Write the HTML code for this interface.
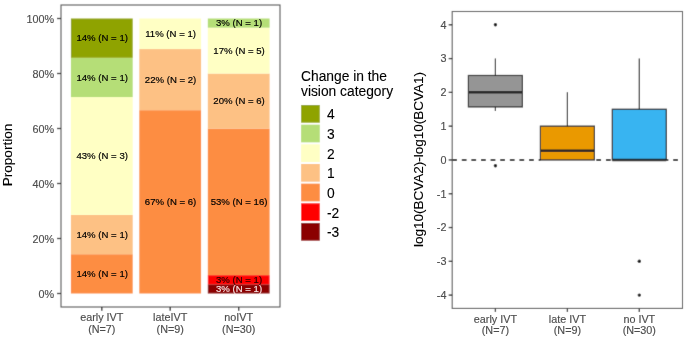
<!DOCTYPE html>
<html><head><meta charset="utf-8"><style>html,body{margin:0;padding:0;background:#fff;width:685px;height:339px;overflow:hidden}svg{display:block;will-change:transform}</style></head><body>
<svg width="685" height="339" viewBox="0 0 685 339" font-family='"Liberation Sans", sans-serif'>
<defs><filter id="bl" x="0" y="0" width="685" height="339" filterUnits="userSpaceOnUse"><feConvolveMatrix order="3" kernelMatrix="0.0100 0.0800 0.0100 0.0800 0.6400 0.0800 0.0100 0.0800 0.0100" edgeMode="duplicate"/></filter></defs>
<g filter="url(#bl)">
<rect x="0" y="0" width="685" height="339" fill="#ffffff"/>
<rect x="70.90" y="254.21" width="61.80" height="39.29" fill="#fd8d42"/>
<rect x="70.90" y="214.93" width="61.80" height="39.29" fill="#fdc184"/>
<rect x="70.90" y="97.07" width="61.80" height="117.86" fill="#ffffc4"/>
<rect x="70.90" y="57.79" width="61.80" height="39.29" fill="#b5de77"/>
<rect x="70.90" y="18.50" width="61.80" height="39.29" fill="#8fa300"/>
<rect x="139.30" y="110.17" width="61.80" height="183.33" fill="#fd8d42"/>
<rect x="139.30" y="49.06" width="61.80" height="61.11" fill="#fdc184"/>
<rect x="139.30" y="18.50" width="61.80" height="30.56" fill="#ffffc4"/>
<rect x="207.80" y="284.33" width="61.80" height="9.17" fill="#8b0000"/>
<rect x="207.80" y="275.17" width="61.80" height="9.17" fill="#ff0000"/>
<rect x="207.80" y="128.50" width="61.80" height="146.67" fill="#fd8d42"/>
<rect x="207.80" y="73.50" width="61.80" height="55.00" fill="#fdc184"/>
<rect x="207.80" y="27.67" width="61.80" height="45.83" fill="#ffffc4"/>
<rect x="207.80" y="18.50" width="61.80" height="9.17" fill="#b5de77"/>
<rect x="61.0" y="5.0" width="219.0" height="302.0" fill="none" stroke="#555555" stroke-width="1.1"/>
<line x1="57.0" y1="293.50" x2="61.0" y2="293.50" stroke="#222222" stroke-width="1.3"/>
<line x1="57.0" y1="238.50" x2="61.0" y2="238.50" stroke="#222222" stroke-width="1.3"/>
<line x1="57.0" y1="183.50" x2="61.0" y2="183.50" stroke="#222222" stroke-width="1.3"/>
<line x1="57.0" y1="128.50" x2="61.0" y2="128.50" stroke="#222222" stroke-width="1.3"/>
<line x1="57.0" y1="73.50" x2="61.0" y2="73.50" stroke="#222222" stroke-width="1.3"/>
<line x1="57.0" y1="18.50" x2="61.0" y2="18.50" stroke="#222222" stroke-width="1.3"/>
<line x1="101.8" y1="307.0" x2="101.8" y2="310.7" stroke="#222222" stroke-width="1.3"/>
<line x1="170.2" y1="307.0" x2="170.2" y2="310.7" stroke="#222222" stroke-width="1.3"/>
<line x1="238.7" y1="307.0" x2="238.7" y2="310.7" stroke="#222222" stroke-width="1.3"/>
<rect x="301.1" y="105.00" width="18.7" height="17.7" fill="#8fa300"/>
<rect x="301.1" y="124.66" width="18.7" height="17.7" fill="#b5de77"/>
<rect x="301.1" y="144.32" width="18.7" height="17.7" fill="#ffffc4"/>
<rect x="301.1" y="163.98" width="18.7" height="17.7" fill="#fdc184"/>
<rect x="301.1" y="183.64" width="18.7" height="17.7" fill="#fd8d42"/>
<rect x="301.1" y="203.30" width="18.7" height="17.7" fill="#ff0000"/>
<rect x="301.1" y="222.96" width="18.7" height="17.7" fill="#8b0000"/>
<line x1="452.20" y1="159.95" x2="540.40" y2="159.95" stroke="#333" stroke-width="2" stroke-dasharray="4.7 4.91" stroke-dashoffset="0.00"/>
<line x1="594.40" y1="159.95" x2="612.30" y2="159.95" stroke="#333" stroke-width="2" stroke-dasharray="4.7 4.91" stroke-dashoffset="7.66"/>
<line x1="666.30" y1="159.95" x2="682.50" y2="159.95" stroke="#333" stroke-width="2" stroke-dasharray="4.7 4.91" stroke-dashoffset="2.68"/>
<line x1="495.4" y1="58.58" x2="495.4" y2="75.47" stroke="#262626" stroke-width="1.2"/>
<line x1="495.4" y1="106.90" x2="495.4" y2="110.95" stroke="#262626" stroke-width="1.2"/>
<rect x="468.40" y="75.47" width="54.00" height="31.42" fill="#959595" stroke="#262626" stroke-width="1.2"/>
<line x1="468.40" y1="92.37" x2="522.40" y2="92.37" stroke="#262626" stroke-width="2.5"/>
<circle cx="495.4" cy="24.79" r="1.7" fill="#111"/>
<circle cx="495.4" cy="165.80" r="1.7" fill="#111"/>
<line x1="567.4" y1="92.37" x2="567.4" y2="126.16" stroke="#262626" stroke-width="1.2"/>
<line x1="567.4" y1="159.95" x2="567.4" y2="159.95" stroke="#262626" stroke-width="1.2"/>
<rect x="540.40" y="126.16" width="54.00" height="33.79" fill="#ea9900" stroke="#262626" stroke-width="1.2"/>
<line x1="540.40" y1="150.83" x2="594.40" y2="150.83" stroke="#262626" stroke-width="2.5"/>
<line x1="639.3" y1="58.58" x2="639.3" y2="109.26" stroke="#262626" stroke-width="1.2"/>
<line x1="639.3" y1="159.95" x2="639.3" y2="159.95" stroke="#262626" stroke-width="1.2"/>
<rect x="612.30" y="109.26" width="54.00" height="50.69" fill="#38b4f1" stroke="#262626" stroke-width="1.2"/>
<line x1="612.30" y1="159.95" x2="666.30" y2="159.95" stroke="#262626" stroke-width="2.5"/>
<circle cx="639.3" cy="261.32" r="1.7" fill="#111"/>
<circle cx="639.3" cy="295.11" r="1.7" fill="#111"/>
<rect x="452.2" y="11.5" width="230.30" height="296.90" fill="none" stroke="#555555" stroke-width="1.1"/>
<line x1="448.7" y1="295.11" x2="452.2" y2="295.11" stroke="#222222" stroke-width="1.3"/>
<line x1="448.7" y1="261.32" x2="452.2" y2="261.32" stroke="#222222" stroke-width="1.3"/>
<line x1="448.7" y1="227.53" x2="452.2" y2="227.53" stroke="#222222" stroke-width="1.3"/>
<line x1="448.7" y1="193.74" x2="452.2" y2="193.74" stroke="#222222" stroke-width="1.3"/>
<line x1="448.7" y1="159.95" x2="452.2" y2="159.95" stroke="#222222" stroke-width="1.3"/>
<line x1="448.7" y1="126.16" x2="452.2" y2="126.16" stroke="#222222" stroke-width="1.3"/>
<line x1="448.7" y1="92.37" x2="452.2" y2="92.37" stroke="#222222" stroke-width="1.3"/>
<line x1="448.7" y1="58.58" x2="452.2" y2="58.58" stroke="#222222" stroke-width="1.3"/>
<line x1="448.7" y1="24.79" x2="452.2" y2="24.79" stroke="#222222" stroke-width="1.3"/>
<line x1="495.4" y1="308.4" x2="495.4" y2="311.9" stroke="#222222" stroke-width="1.3"/>
<line x1="567.4" y1="308.4" x2="567.4" y2="311.9" stroke="#222222" stroke-width="1.3"/>
<line x1="639.3" y1="308.4" x2="639.3" y2="311.9" stroke="#222222" stroke-width="1.3"/>
</g>
<g>
<text x="102.20" y="277.19" font-size="9.6" fill="#000000" stroke="#000000" stroke-width="0.18" text-anchor="middle">14% (N = 1)</text>
<text x="102.20" y="237.91" font-size="9.6" fill="#000000" stroke="#000000" stroke-width="0.18" text-anchor="middle">14% (N = 1)</text>
<text x="102.20" y="159.34" font-size="9.6" fill="#000000" stroke="#000000" stroke-width="0.18" text-anchor="middle">43% (N = 3)</text>
<text x="102.20" y="80.77" font-size="9.6" fill="#000000" stroke="#000000" stroke-width="0.18" text-anchor="middle">14% (N = 1)</text>
<text x="102.20" y="41.48" font-size="9.6" fill="#000000" stroke="#000000" stroke-width="0.18" text-anchor="middle">14% (N = 1)</text>
<text x="170.60" y="205.17" font-size="9.6" fill="#000000" stroke="#000000" stroke-width="0.18" text-anchor="middle">67% (N = 6)</text>
<text x="170.60" y="82.95" font-size="9.6" fill="#000000" stroke="#000000" stroke-width="0.18" text-anchor="middle">22% (N = 2)</text>
<text x="170.60" y="37.11" font-size="9.6" fill="#000000" stroke="#000000" stroke-width="0.18" text-anchor="middle">11% (N = 1)</text>
<text x="239.10" y="292.25" font-size="9.6" fill="#f6e2e2" stroke="#f6e2e2" stroke-width="0.18" text-anchor="middle">3% (N = 1)</text>
<text x="239.10" y="283.09" font-size="9.6" fill="#2a0000" stroke="#2a0000" stroke-width="0.18" text-anchor="middle">3% (N = 1)</text>
<text x="239.10" y="205.17" font-size="9.6" fill="#000000" stroke="#000000" stroke-width="0.18" text-anchor="middle">53% (N = 16)</text>
<text x="239.10" y="104.34" font-size="9.6" fill="#000000" stroke="#000000" stroke-width="0.18" text-anchor="middle">20% (N = 6)</text>
<text x="239.10" y="53.92" font-size="9.6" fill="#000000" stroke="#000000" stroke-width="0.18" text-anchor="middle">17% (N = 5)</text>
<text x="239.10" y="26.42" font-size="9.6" fill="#000000" stroke="#000000" stroke-width="0.18" text-anchor="middle">3% (N = 1)</text>
<text x="54.20" y="297.77" font-size="10.8" fill="#4d4d4d" stroke="#4d4d4d" stroke-width="0.15" text-anchor="end">0%</text>
<text x="54.20" y="242.77" font-size="10.8" fill="#4d4d4d" stroke="#4d4d4d" stroke-width="0.15" text-anchor="end">20%</text>
<text x="54.20" y="187.77" font-size="10.8" fill="#4d4d4d" stroke="#4d4d4d" stroke-width="0.15" text-anchor="end">40%</text>
<text x="54.20" y="132.77" font-size="10.8" fill="#4d4d4d" stroke="#4d4d4d" stroke-width="0.15" text-anchor="end">60%</text>
<text x="54.20" y="77.77" font-size="10.8" fill="#4d4d4d" stroke="#4d4d4d" stroke-width="0.15" text-anchor="end">80%</text>
<text x="54.20" y="22.77" font-size="10.8" fill="#4d4d4d" stroke="#4d4d4d" stroke-width="0.15" text-anchor="end">100%</text>
<text x="101.80" y="321.20" font-size="10.8" fill="#4d4d4d" stroke="#4d4d4d" stroke-width="0.15" text-anchor="middle">early IVT</text>
<text x="101.80" y="332.90" font-size="10.8" fill="#4d4d4d" stroke="#4d4d4d" stroke-width="0.15" text-anchor="middle">(N=7)</text>
<text x="170.20" y="321.20" font-size="10.8" fill="#4d4d4d" stroke="#4d4d4d" stroke-width="0.15" text-anchor="middle">lateIVT</text>
<text x="170.20" y="332.90" font-size="10.8" fill="#4d4d4d" stroke="#4d4d4d" stroke-width="0.15" text-anchor="middle">(N=9)</text>
<text x="238.70" y="321.20" font-size="10.8" fill="#4d4d4d" stroke="#4d4d4d" stroke-width="0.15" text-anchor="middle">noIVT</text>
<text x="238.70" y="332.90" font-size="10.8" fill="#4d4d4d" stroke="#4d4d4d" stroke-width="0.15" text-anchor="middle">(N=30)</text>
<text transform="translate(12.3,155.00) rotate(-90)" x="0" y="0" font-size="13.6" fill="#000" stroke="#000" stroke-width="0.1" text-anchor="middle">Proportion</text>
<text x="301.00" y="81.00" font-size="13.8" fill="#000" stroke="#000" stroke-width="0.1">Change in the</text>
<text x="301.00" y="96.00" font-size="13.8" fill="#000" stroke="#000" stroke-width="0.1">vision category</text>
<text x="326.90" y="119.29" font-size="13.8" fill="#000" stroke="#000" stroke-width="0.1">4</text>
<text x="326.90" y="138.95" font-size="13.8" fill="#000" stroke="#000" stroke-width="0.1">3</text>
<text x="326.90" y="158.61" font-size="13.8" fill="#000" stroke="#000" stroke-width="0.1">2</text>
<text x="326.90" y="178.27" font-size="13.8" fill="#000" stroke="#000" stroke-width="0.1">1</text>
<text x="326.90" y="197.93" font-size="13.8" fill="#000" stroke="#000" stroke-width="0.1">0</text>
<text x="326.90" y="217.59" font-size="13.8" fill="#000" stroke="#000" stroke-width="0.1">-2</text>
<text x="326.90" y="237.25" font-size="13.8" fill="#000" stroke="#000" stroke-width="0.1">-3</text>
<text x="446.40" y="298.98" font-size="10.8" fill="#4d4d4d" stroke="#4d4d4d" stroke-width="0.15" text-anchor="end">-4</text>
<text x="446.40" y="265.19" font-size="10.8" fill="#4d4d4d" stroke="#4d4d4d" stroke-width="0.15" text-anchor="end">-3</text>
<text x="446.40" y="231.40" font-size="10.8" fill="#4d4d4d" stroke="#4d4d4d" stroke-width="0.15" text-anchor="end">-2</text>
<text x="446.40" y="197.61" font-size="10.8" fill="#4d4d4d" stroke="#4d4d4d" stroke-width="0.15" text-anchor="end">-1</text>
<text x="446.40" y="163.82" font-size="10.8" fill="#4d4d4d" stroke="#4d4d4d" stroke-width="0.15" text-anchor="end">0</text>
<text x="446.40" y="130.03" font-size="10.8" fill="#4d4d4d" stroke="#4d4d4d" stroke-width="0.15" text-anchor="end">1</text>
<text x="446.40" y="96.24" font-size="10.8" fill="#4d4d4d" stroke="#4d4d4d" stroke-width="0.15" text-anchor="end">2</text>
<text x="446.40" y="62.45" font-size="10.8" fill="#4d4d4d" stroke="#4d4d4d" stroke-width="0.15" text-anchor="end">3</text>
<text x="446.40" y="28.66" font-size="10.8" fill="#4d4d4d" stroke="#4d4d4d" stroke-width="0.15" text-anchor="end">4</text>
<text x="495.40" y="322.70" font-size="10.8" fill="#4d4d4d" stroke="#4d4d4d" stroke-width="0.15" text-anchor="middle">early IVT</text>
<text x="495.40" y="334.40" font-size="10.8" fill="#4d4d4d" stroke="#4d4d4d" stroke-width="0.15" text-anchor="middle">(N=7)</text>
<text x="567.40" y="322.70" font-size="10.8" fill="#4d4d4d" stroke="#4d4d4d" stroke-width="0.15" text-anchor="middle">late IVT</text>
<text x="567.40" y="334.40" font-size="10.8" fill="#4d4d4d" stroke="#4d4d4d" stroke-width="0.15" text-anchor="middle">(N=9)</text>
<text x="639.30" y="322.70" font-size="10.8" fill="#4d4d4d" stroke="#4d4d4d" stroke-width="0.15" text-anchor="middle">no IVT</text>
<text x="639.30" y="334.40" font-size="10.8" fill="#4d4d4d" stroke="#4d4d4d" stroke-width="0.15" text-anchor="middle">(N=30)</text>
<text transform="translate(423.0,159.5) rotate(-90)" x="0" y="0" font-size="13.5" fill="#000" stroke="#000" stroke-width="0.1" text-anchor="middle">log10(BCVA2)-log10(BCVA1)</text>
</g>
</svg>
</body></html>
